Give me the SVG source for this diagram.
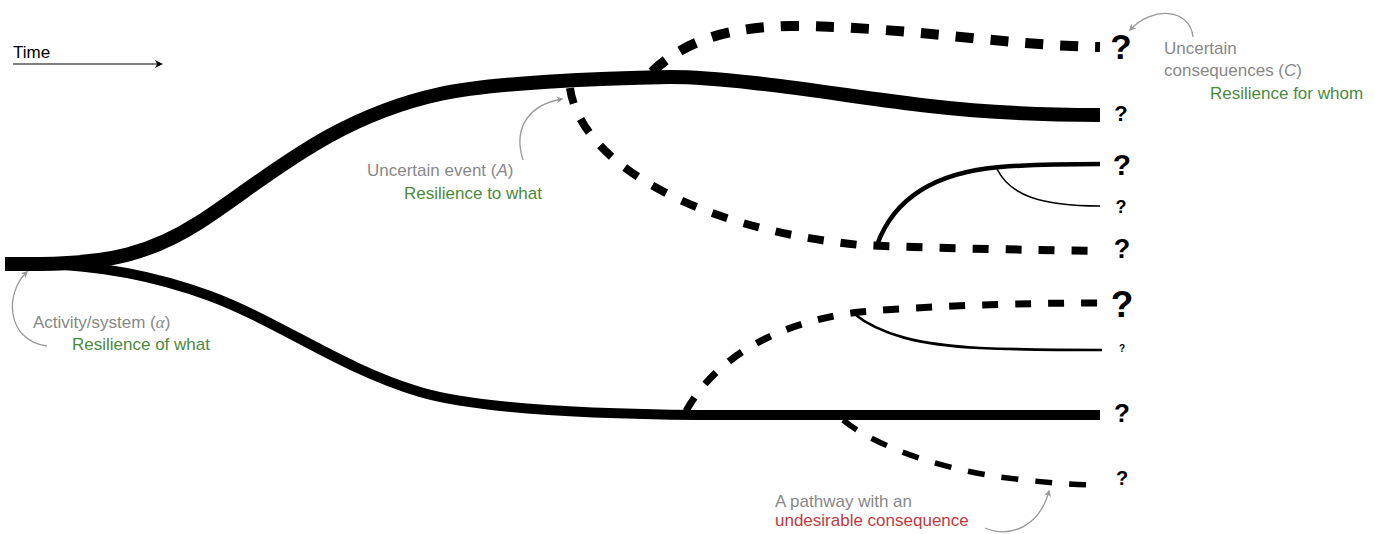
<svg xmlns="http://www.w3.org/2000/svg" width="1375" height="534" viewBox="0 0 1375 534">
<style>
  .main{fill:none;stroke:#000;stroke-linecap:butt;}
  .dash{fill:none;stroke:#000;stroke-linecap:butt;}
  .ann{fill:none;stroke:#999;stroke-width:1.3;}
  .q{font-family:"Liberation Sans",Arial,sans-serif;font-weight:bold;fill:#000;text-anchor:middle;}
  .lbl{font-family:"Liberation Sans",Arial,sans-serif;font-size:17px;}
  .gray{fill:#888;}
  .green{fill:#4b8a3c;}
  .red{fill:#c23a3e;}
</style>
<defs>
  <marker id="ga" viewBox="0 0 10 10" refX="8" refY="5" markerWidth="7" markerHeight="7" markerUnits="userSpaceOnUse" orient="auto">
    <path d="M0,0 L10,5 L0,10 L3,5 Z" fill="#999"/>
  </marker>
  <marker id="ba" viewBox="0 0 10 10" refX="9" refY="5" markerWidth="8" markerHeight="8" markerUnits="userSpaceOnUse" orient="auto">
    <path d="M0,0 L10,5 L0,10 L3,5 Z" fill="#000"/>
  </marker>
</defs>

<g id="connectors">
  <!-- stem + upper branch -->
  <path class="main" stroke-width="14" d="M5,264 L40,264 C110,263 150,254 200,222 C265,180 330,118 440,94 C490,83 600,78 670,77 C740,77 850,97 930,106 C990,113 1050,115 1100,115"/>
  <!-- lower branch -->
  <path class="main" stroke-width="10" d="M40,264 C90,265 150,274 210,296 C280,322 340,368 420,392 C480,410 600,414 700,415 L1100,415"/>
  <!-- top dashed -->
  <path class="dash" stroke-width="10" stroke-dasharray="18 17" d="M652,72 C685,40 730,27 790,26 C900,26 1000,45 1100,47"/>
  <!-- second dashed -->
  <path class="dash" stroke-width="8" stroke-dasharray="16 17" d="M570,88 C580,160 690,228 860,245 C950,249 1050,250 1100,251"/>
  <!-- solid branch from second dashed -->
  <path class="main" stroke-width="4.5" d="M877,245 C895,195 940,172 1000,167 C1040,164 1070,164 1100,164"/>
  <path class="main" stroke-width="1.6" d="M997,169 C1010,195 1040,206 1100,206"/>
  <!-- lower dashed rising -->
  <path class="dash" stroke-width="7" stroke-dasharray="16 17" d="M686,411 C720,350 790,320 860,312 C950,304 1050,303 1100,303"/>
  <path class="main" stroke-width="2.6" d="M853,313 C880,335 920,345 980,348 C1030,350 1070,350 1102,350"/>
  <!-- bottom dashed -->
  <path class="dash" stroke-width="5.5" stroke-dasharray="17 17" d="M843,420 C880,450 950,470 1000,477 C1040,482 1070,485 1100,485"/>
  <!-- time arrow -->
  <path fill="none" stroke="#000" stroke-width="1.2" d="M13,64 L162,64" marker-end="url(#ba)"/>
  <!-- annotation arrows -->
  <path class="ann" d="M1193,37 C1190,8 1152,6 1130,30" marker-end="url(#ga)"/>
  <path class="ann" d="M523,160 C512,125 532,104 562,99" marker-end="url(#ga)"/>
  <path class="ann" d="M47,346 C5,340 5,292 27,272" marker-end="url(#ga)"/>
  <path class="ann" d="M985,528 C1012,539 1040,525 1049,491" marker-end="url(#ga)"/>
</g>

<g id="outcomes">
  <text class="q" x="1121" y="59" font-size="35">?</text>
  <text class="q" x="1121" y="121" font-size="22">?</text>
  <text class="q" x="1122" y="175" font-size="30">?</text>
  <text class="q" x="1121" y="213" font-size="18">?</text>
  <text class="q" x="1122" y="258" font-size="27">?</text>
  <text class="q" x="1122" y="317" font-size="37">?</text>
  <text class="q" x="1122" y="352" font-size="10">?</text>
  <text class="q" x="1122" y="422" font-size="26">?</text>
  <text class="q" x="1122" y="485" font-size="20">?</text>
</g>

<g id="time">
  <text class="lbl" x="13" y="58" fill="#000">Time</text>
</g>

<g id="label-consequences">
  <text class="lbl gray" x="1164" y="54">Uncertain</text>
  <text class="lbl gray" x="1164" y="76">consequences (<tspan font-style="italic">C</tspan>)</text>
  <text class="lbl green" x="1210" y="99">Resilience for whom</text>
</g>

<g id="label-event">
  <text class="lbl gray" x="367" y="176">Uncertain event (<tspan font-style="italic">A</tspan>)</text>
  <text class="lbl green" x="404" y="199">Resilience to what</text>
</g>

<g id="label-activity">
  <text class="lbl gray" x="33" y="328">Activity/system (<tspan font-family="Liberation Serif,serif" font-style="italic">α</tspan>)</text>
  <text class="lbl green" x="72" y="350">Resilience of what</text>
</g>

<g id="label-pathway">
  <text class="lbl gray" x="775" y="507">A pathway with an</text>
  <text class="lbl red" x="775" y="526">undesirable consequence</text>
</g>
</svg>
